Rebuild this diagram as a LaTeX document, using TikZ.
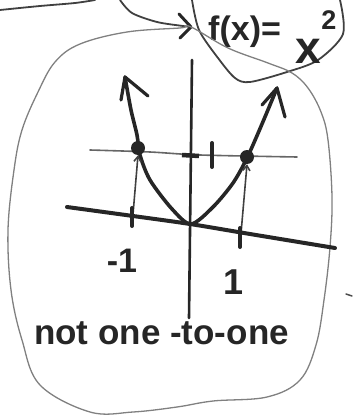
\documentclass[tikz,border=0pt]{standalone}
\usepackage{fontspec}
\setmainfont{Liberation Sans}
\usetikzlibrary{arrows.meta}
\begin{document}
\begin{tikzpicture}[x=1pt,y=-1pt,
  ink/.style={line width=3.6pt,black!85,line cap=round,line join=round},
  thinink/.style={line width=1.6pt,black!75,line cap=round},
  pencil/.style={line width=1.3pt,black!50,line cap=round,line join=round},
  boxline/.style={line width=1.8pt,black!75,line cap=round,line join=round},
  dot/.style={circle,fill=black!85,minimum size=14pt,inner sep=0pt},
  lbl/.style={inner sep=0pt,black!85,font=\bfseries}]
\useasboundingbox (0,0) rectangle (353,417);
% top-left fragment
\draw[boxline] plot[smooth] coordinates {(0,10) (40,6) (75,3) (95,0)};
% arrow into the formula box
\coordinate (arrS) at (120,0);
\coordinate (arrE) at (191,27);
\draw[boxline] plot[smooth] coordinates {(120,0) (132,13) (157,22) (183,26) (191,27)};
\draw[line width=3pt,black!85,line cap=round,line join=round] (179,14) -- (191,27) -- (180,38);
% formula box
\draw[boxline] plot[smooth] coordinates {(192,0) (199,30) (218,58) (235,78) (250,82) (287,72) (318,60) (343,34) (340,0)};
\node[lbl,font=\bfseries\fontsize{34}{34}\selectfont,anchor=base west] (fx) at (208,41) {f(x)=};
\node[lbl,font=\bfseries\fontsize{46}{46}\selectfont,anchor=base] (xx) at (308,64) {x};
\node[lbl,font=\bfseries\fontsize{27}{27}\selectfont,anchor=base] (sq) at (329,30) {2};
% big enclosing blob
\draw[pencil] plot[smooth cycle, tension=0.6] coordinates {(191,27) (228,48) (268,63) (292,73) (308,88) (321,112) (328,140) (332,197) (330,247) (324,300) (316,345) (300,380) (267,397) (213,401) (177,407) (133,412) (90,412) (40,385) (22,340) (11,290) (8,230) (14,170) (22,130) (38,92) (55,62) (80,44) (127,32) (180,28)};
% axes
\coordinate (yT) at (192,60);
\coordinate (yB) at (189,318);
\draw[line width=2.6pt,black!85,line cap=round] (yT) -- (yB);
\draw[ink,line width=4pt] plot[smooth] coordinates {(67,207) (133,216) (190,224) (250,234) (335,248)};
% y=1 line
\draw[pencil,line width=1.6pt,black!60] plot[smooth] coordinates {(90,150) (150,152) (200,155) (297,157)};
\draw[line width=4.5pt,black!85] (182,155) -- (199,156);
\draw[line width=4pt,black!85,line cap=round] (212,143) -- (212,167);
% parabola
\node[dot] (pL) at (138,148) {};
\node[dot] (pR) at (247,157) {};
\coordinate (v) at (191,224);
\draw[ink] plot[smooth] coordinates {(125,77) (131,110) (137,135) (140,155) (150,180) (172,209) (191,224) (213,207) (233,183) (247,158) (262,124) (277,88)};
\draw[ink,line width=3.2pt] (121,100) -- (125,77) -- (148,96);
\draw[ink,line width=3.2pt] (262,105) -- (277,88) -- (285,117);
% vertical guides and x-ticks
\coordinate (tL) at (132,226);
\coordinate (tR) at (240,245);
\draw[thinink,-{Straight Barb[length=5pt,width=7pt]}] (tL) -- (pL.south);
\draw[thinink,-{Straight Barb[length=5pt,width=7pt]}] (tR) -- (pR.south);
\draw[line width=4pt,black!85,line cap=round] (132,208) -- (132,226);
\draw[line width=4pt,black!85,line cap=round] (240,228) -- (240,247);
% labels
\node[lbl,font=\bfseries\fontsize{34}{34}\selectfont] (m1) at (122,261) {-1};
\node[lbl,font=\bfseries\fontsize{36}{36}\selectfont] (p1) at (234,282) {1};
\node[lbl,font=\bfseries\fontsize{35}{35}\selectfont,anchor=base west] (txt) at (34,344) {not one -to-one};
% small stray mark
\draw[line width=1.5pt,black!70,line cap=round] (346,294) -- (352,296);
\end{tikzpicture}
\end{document}
